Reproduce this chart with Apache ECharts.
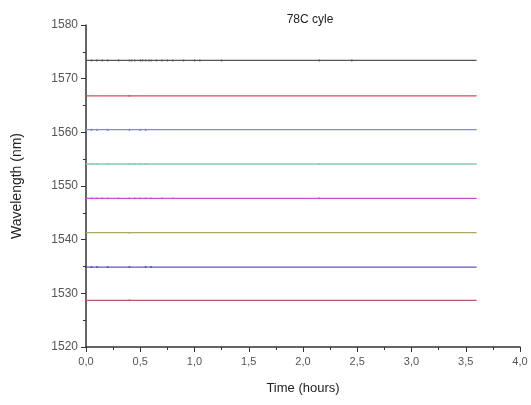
<!DOCTYPE html>
<html><head><meta charset="utf-8">
<script src="https://cdn.jsdelivr.net/npm/echarts@6/dist/echarts.min.js"></script>
<style>html,body{margin:0;padding:0;background:#fff}#c{width:531px;height:405px}</style>
</head><body><div id="c"></div>
<script>
const title = "78C cyle";
const xLabel = "Time (hours)";
const yLabel = "Wavelength (nm)";
const times = [0, 3.6];
const channelWavelengths = [1573.4, 1566.8, 1560.5, 1554.1, 1547.7, 1541.3, 1534.9, 1528.7];
const channelColors = ["#555555", "#d84a5a", "#8484f0", "#86c8b8", "#d648d6", "#a8a860", "#5a5ab8", "#b85a68"];
// visible sample dots (times, hours), per channel
const dotTimes = [
  [0.05,0.1,0.15,0.2,0.3,0.4,0.42,0.45,0.5,0.52,0.55,0.58,0.6,0.65,0.7,0.75,0.8,0.9,1.0,1.05,1.25,2.15,2.45],
  [0.4],
  [0.05,0.1,0.2,0.4,0.5,0.55],
  [0.05,0.1,0.2,0.4,0.45,0.5,0.55,2.15],
  [0.05,0.1,0.15,0.2,0.3,0.4,0.45,0.5,0.55,0.6,0.7,0.8,2.15],
  [0.4],
  [0.0,0.05,0.1,0.2,0.4,0.55,0.6],
  [0.4]
];
const xTicks = ["0,0","0,5","1,0","1,5","2,0","2,5","3,0","3,5","4,0"];

const series = [];
channelWavelengths.forEach((w, i) => {
  series.push({
    type: 'line', data: times.map(t => [t, w]), showSymbol: false,
    lineStyle: { color: channelColors[i], width: 1.3 }, silent: true
  });
  series.push({
    type: 'scatter', data: dotTimes[i].map(t => [t, w]), symbolSize: 2,
    itemStyle: { color: i === 0 ? '#222' : (i === 2 || i === 6 ? '#222266' : channelColors[i]) }, silent: true
  });
});

const chart = echarts.init(document.getElementById('c'), null, { renderer: 'canvas' });
chart.setOption({
  animation: false,
  title: { text: title, left: 305, top: 9, textAlign: 'center',
    textStyle: { fontFamily: 'Liberation Sans', fontSize: 12, fontWeight: 'normal', color: '#222' } },
  grid: { left: 86, right: 11, top: 25, bottom: 58 },
  xAxis: {
    type: 'value', min: 0, max: 4, interval: 0.5,
    name: xLabel, nameLocation: 'middle', nameGap: 35,
    nameTextStyle: { fontFamily: 'Liberation Sans', fontSize: 13, color: '#222' },
    axisLine: { lineStyle: { color: '#333', width: 1.5 } },
    axisTick: { show: true, inside: false, length: 5, lineStyle: { color: '#333' } },
    minorTick: { show: true, splitNumber: 2, length: 3, lineStyle: { color: '#333' } },
    splitLine: { show: false },
    axisLabel: { fontFamily: 'Liberation Sans', fontSize: 11, color: '#555', margin: 9,
      formatter: v => xTicks[Math.round(v / 0.5)] }
  },
  yAxis: {
    type: 'value', min: 1520, max: 1580, interval: 10,
    name: yLabel, nameLocation: 'middle', nameGap: 62, nameRotate: 90,
    nameTextStyle: { fontFamily: 'Liberation Sans', fontSize: 14, color: '#222' },
    axisLine: { show: true, lineStyle: { color: '#333', width: 1.5 } },
    axisTick: { show: true, inside: false, length: 5, lineStyle: { color: '#333' } },
    minorTick: { show: true, splitNumber: 2, length: 3, lineStyle: { color: '#333' } },
    splitLine: { show: false },
    axisLabel: { fontFamily: 'Liberation Sans', fontSize: 12, color: '#555', margin: 8,
      formatter: v => String(v) }
  },
  series: series
});
</script></body></html>
